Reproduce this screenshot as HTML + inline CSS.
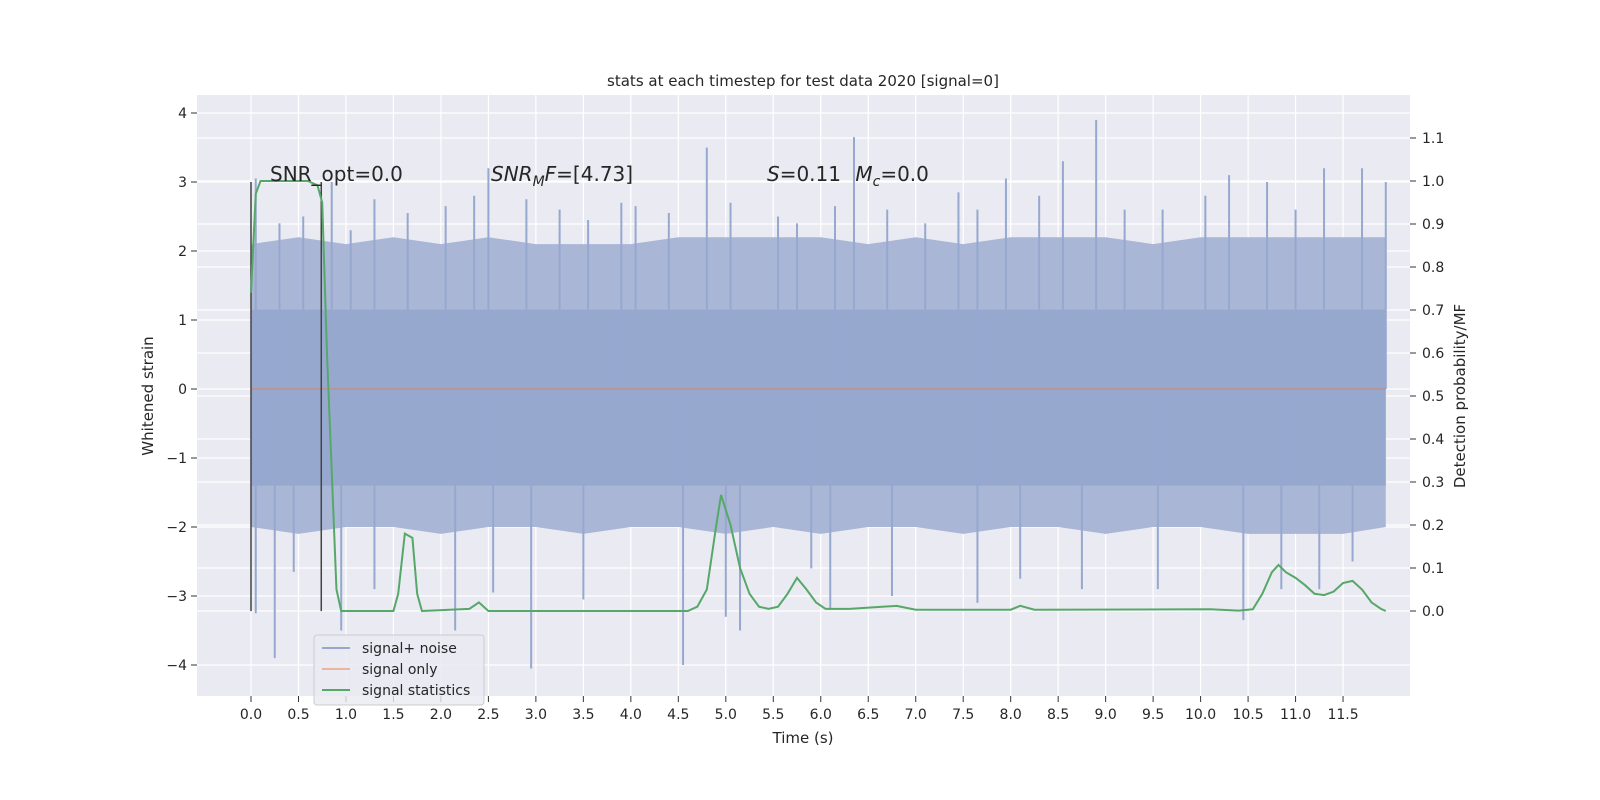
<!DOCTYPE html>
<html><head><meta charset="utf-8"><style>
body{margin:0;background:#fff;}
svg{display:block;font-family:"DejaVu Sans","Liberation Sans",sans-serif;}
</style></head><body>
<svg id="chart" width="1600" height="800" viewBox="0 0 1600 800"></svg>
<script>
const xTicks=[0,0.5,1,1.5,2,2.5,3,3.5,4,4.5,5,5.5,6,6.5,7,7.5,8,8.5,9,9.5,10,10.5,11,11.5];
const yLeftTicks=[-4,-3,-2,-1,0,1,2,3,4];
const yRightTicks=[0,0.1,0.2,0.3,0.4,0.5,0.6,0.7,0.8,0.9,1.0,1.1];
const statT=[0,0.05,0.1,0.2,0.6,0.7,0.75,0.8,0.9,0.95,1.5,1.55,1.62,1.7,1.75,1.8,2.3,2.4,2.5,4.6,4.7,4.8,4.9,4.95,5.05,5.15,5.25,5.35,5.45,5.55,5.65,5.75,5.85,5.95,6.05,6.3,6.8,7.0,8.0,8.1,8.25,10.1,10.4,10.55,10.65,10.75,10.82,10.9,11.0,11.1,11.2,11.3,11.4,11.5,11.6,11.7,11.8,11.9,11.95];
const statV=[0.74,0.97,1.0,1.0,1.0,0.99,0.95,0.6,0.05,0.0,0.0,0.04,0.18,0.17,0.04,0.0,0.005,0.02,0.0,0.0,0.01,0.05,0.2,0.27,0.2,0.1,0.04,0.01,0.005,0.01,0.04,0.077,0.05,0.02,0.005,0.005,0.012,0.003,0.003,0.012,0.003,0.004,0.001,0.004,0.04,0.09,0.107,0.09,0.077,0.06,0.04,0.037,0.045,0.065,0.07,0.05,0.02,0.005,0.0];
const envT=[0,0.5,1,1.5,2,2.5,3,3.5,4,4.5,5,5.5,6,6.5,7,7.5,8,8.5,9,9.5,10,10.5,11,11.5,11.95];
const envTop=[2.1,2.2,2.1,2.2,2.1,2.2,2.1,2.1,2.1,2.2,2.2,2.2,2.2,2.1,2.2,2.1,2.2,2.2,2.2,2.1,2.2,2.2,2.2,2.2,2.2];
const envBot=[-2.0,-2.1,-2.0,-2.0,-2.1,-2.0,-2.0,-2.1,-2.0,-2.0,-2.1,-2.0,-2.1,-2.0,-2.0,-2.1,-2.0,-2.0,-2.1,-2.0,-2.0,-2.1,-2.1,-2.1,-2.0];
const spikeT=[0.05,0.3,0.55,0.85,1.05,1.3,1.65,2.05,2.35,2.5,2.9,3.25,3.55,3.9,4.05,4.4,4.8,5.05,5.55,5.75,6.15,6.35,6.7,7.1,7.45,7.65,7.95,8.3,8.55,8.9,9.2,9.6,10.05,10.3,10.7,11.0,11.3,11.7,11.95,0.05,0.25,0.45,0.95,1.3,2.15,2.55,2.95,3.5,4.55,5.0,5.15,5.9,6.1,6.75,7.65,8.1,8.75,9.55,10.45,10.85,11.25,11.6];
const spikeV=[3.05,2.4,2.5,3.0,2.3,2.75,2.55,2.65,2.8,3.2,2.75,2.6,2.45,2.7,2.65,2.55,3.5,2.7,2.5,2.4,2.65,3.65,2.6,2.4,2.85,2.6,3.05,2.8,3.3,3.9,2.6,2.6,2.8,3.1,3.0,2.6,3.2,3.2,3.0,-3.25,-3.9,-2.65,-3.5,-2.9,-3.5,-2.95,-4.05,-3.05,-4.0,-3.3,-3.5,-2.6,-3.2,-3.0,-3.1,-2.75,-2.9,-2.9,-3.35,-2.9,-2.9,-2.5];
const markerLines=[0,0.74];

const L=197,R=1410,T=95,B=696;
const x=t=>251+t*94.96;
const yL=v=>389-v*69;
const yR=v=>611-v*430;
const svg=document.getElementById('chart');
const NS='http://www.w3.org/2000/svg';
function mk(tag,attrs,parent){const e=document.createElementNS(NS,tag);for(const k in attrs)e.setAttribute(k,attrs[k]);(parent||svg).appendChild(e);return e;}
function txt(s,attrs){const e=mk('text',attrs);e.textContent=s;return e;}

const bg=mk('rect',{x:L,y:T,width:R-L,height:B-T,fill:'#eaeaf2'});


const grid=mk('g',{stroke:'#fff','stroke-width':1.2});


xTicks.forEach(t=>mk('line',{x1:x(t),x2:x(t),y1:T,y2:B},grid));
yLeftTicks.forEach(v=>mk('line',{x1:L,x2:R,y1:yL(v),y2:yL(v)},grid));
yRightTicks.forEach(v=>mk('line',{x1:L,x2:R,y1:yR(v),y2:yR(v)},grid));

// noise
const noise=mk('g',{});


let pts=envT.map((t,i)=>x(t)+','+yL(envTop[i]));
for(let i=envT.length-1;i>=0;i--)pts.push(x(envT[i])+','+yL(envBot[i]));
mk('polygon',{points:pts.join(' '),fill:'#a9b6d6'},noise);
mk('rect',{x:x(0),y:yL(1.15),width:x(11.95)-x(0),height:yL(-1.4)-yL(1.15),fill:'#97a8cf'},noise);
spikeT.forEach((t,i)=>{const s=mk('line',{x1:x(t),x2:x(t),y1:yL(0),y2:yL(spikeV[i]),stroke:'#97a8cf','stroke-width':2},noise);

});

const so=mk('line',{x1:x(0),x2:x(11.95),y1:yL(0),y2:yL(0),stroke:'#dd8452','stroke-opacity':0.6,'stroke-width':1.5});



markerLines.forEach(t=>{const m=mk('line',{x1:x(t),x2:x(t),y1:yL(3.0),y2:yL(-3.22),stroke:'#444','stroke-width':1.5});

});

const st=mk('polyline',{points:statT.map((t,i)=>x(t)+','+yR(statV[i])).join(' '),fill:'none',stroke:'#55a868','stroke-width':2});



// ticks
const ax=mk('g',{fill:'#262626','font-size':14});


xTicks.forEach(t=>{mk('line',{x1:x(t),x2:x(t),y1:B,y2:B+6,stroke:'#333'},ax);
const e=mk('text',{x:x(t),y:B+23,'text-anchor':'middle'},ax);e.textContent=t.toFixed(1);

});
yLeftTicks.forEach(v=>{mk('line',{x1:L-6,x2:L,y1:yL(v),y2:yL(v),stroke:'#333'},ax);
const e=mk('text',{x:L-10,y:yL(v)+5,'text-anchor':'end'},ax);e.textContent=v<0?'\u2212'+(-v):String(v);

});
yRightTicks.forEach(v=>{mk('line',{x1:R,x2:R+6,y1:yR(v),y2:yR(v),stroke:'#333'},ax);
const e=mk('text',{x:R+12,y:yR(v)+5},ax);e.textContent=v.toFixed(1);

});

let e;
e=txt('stats at each timestep for test data 2020 [signal=0]',{x:803,y:86,'text-anchor':'middle','font-size':15,fill:'#262626'});


e=txt('Time (s)',{x:803,y:743,'text-anchor':'middle','font-size':15,fill:'#262626'});


e=txt('Whitened strain',{x:153,y:396,'text-anchor':'middle','font-size':15,fill:'#262626',transform:'rotate(-90 153 396)'});


e=txt('Detection probability/MF',{x:1465,y:396,'text-anchor':'middle','font-size':15,fill:'#262626',transform:'rotate(-90 1465 396)'});


e=txt('SNR_opt=0.0',{x:270,y:181,'font-size':20,fill:'#262626'});


e=mk('text',{x:491,y:181,'font-size':20,fill:'#262626'});
e.innerHTML='<tspan font-style="italic">SNR</tspan><tspan font-style="italic" font-size="14" dy="5">M</tspan><tspan font-style="italic" dy="-5">F</tspan>=[4.73]';


e=mk('text',{x:767,y:181,'font-size':20,fill:'#262626'});
e.innerHTML='<tspan font-style="italic">S</tspan>=0.11   <tspan font-style="italic" dx="8">M</tspan><tspan font-style="italic" font-size="14" dy="5">c</tspan><tspan dy="-5">=0.0</tspan>';



// legend
const lg=mk('g',{});


mk('rect',{x:314,y:635,width:170,height:70,rx:3,fill:'#eaeaf2','fill-opacity':0.8,stroke:'#ccc'},lg);
[['signal+ noise','#97a8cf'],['signal only','#e8b79c'],['signal statistics','#55a868']].forEach((d,i)=>{
const yy=648+i*21;
mk('line',{x1:322,x2:350,y1:yy,y2:yy,stroke:d[1],'stroke-width':2},lg);
const t=mk('text',{x:362,y:yy+5,'font-size':14,fill:'#262626'},lg);t.textContent=d[0];

});
</script>
</body></html>
